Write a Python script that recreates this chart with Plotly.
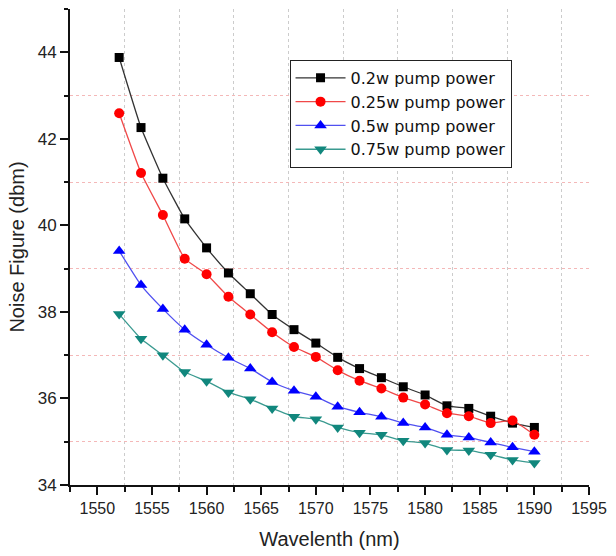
import plotly.graph_objects as go

wavelength = [1552, 1554, 1556, 1558, 1560, 1562, 1564, 1566, 1568, 1570,
              1572, 1574, 1576, 1578, 1580, 1582, 1584, 1586, 1588, 1590]

nf_02w = [43.88, 42.26, 41.09, 40.15, 39.48, 38.90, 38.42, 37.94, 37.59, 37.28,
          36.95, 36.69, 36.48, 36.27, 36.08, 35.83, 35.77, 35.59, 35.43, 35.33]
nf_025w = [42.59, 41.21, 40.24, 39.23, 38.87, 38.35, 37.94, 37.53, 37.19, 36.96,
           36.65, 36.41, 36.23, 36.02, 35.86, 35.66, 35.59, 35.43, 35.49, 35.16]
nf_05w = [39.41, 38.62, 38.07, 37.59, 37.24, 36.94, 36.69, 36.38, 36.18, 36.04,
          35.81, 35.68, 35.58, 35.43, 35.33, 35.16, 35.10, 34.98, 34.87, 34.77]
nf_075w = [37.95, 37.38, 37.00, 36.61, 36.40, 36.14, 35.98, 35.77, 35.58, 35.52,
           35.33, 35.21, 35.16, 35.02, 34.97, 34.81, 34.80, 34.70, 34.58, 34.51]

series_names = ["0.2w pump power", "0.25w pump power", "0.5w pump power", "0.75w pump power"]

FONT = "Liberation Sans, Arial, sans-serif"
LEGFONT = "DejaVu Sans, sans-serif"

styles = [
    dict(symbol="square", size=9, mcolor="#000000", lcolor="#333333"),
    dict(symbol="circle", size=10, mcolor="#ff0000", lcolor="#f04848"),
    dict(symbol="triangle-up", size=11, mcolor="#0000ff", lcolor="#5050f0"),
    dict(symbol="triangle-down", size=11, mcolor="#11877d", lcolor="#3a9a90"),
]

fig = go.Figure()
for name, vals, st in zip(series_names, [nf_02w, nf_025w, nf_05w, nf_075w], styles):
    fig.add_trace(go.Scatter(
        x=wavelength, y=vals, name=name, mode="lines+markers",
        line=dict(color=st["lcolor"], width=1.3, shape="spline", smoothing=0.4),
        marker=dict(symbol=st["symbol"], size=st["size"], color=st["mcolor"],
                    line=dict(width=0)),
    ))

fig.update_layout(
    width=616, height=556,
    margin=dict(l=70, r=18, t=9, b=69),
    paper_bgcolor="white", plot_bgcolor="white",
    font=dict(family=FONT, color="#222222"),
    showlegend=True,
    legend=dict(
        x=0.423, y=0.893, xanchor="left", yanchor="top",
        bgcolor="white", bordercolor="#222222", borderwidth=1,
        font=dict(family=LEGFONT, size=16, color="#111111"),
        itemwidth=50, tracegroupgap=0,
    ),
    xaxis=dict(
        range=[1547.5, 1595], tick0=1550, dtick=5,
        showline=True, linecolor="#111111", linewidth=2,
        ticks="outside", ticklen=8, tickwidth=2, tickcolor="#111111",
        showgrid=False, zeroline=False,
        tickfont=dict(family=FONT, size=16, color="#222222"),
        title=dict(text="Wavelenth (nm)", font=dict(family=FONT, size=20, color="#222222"), standoff=16),
        minor=dict(dtick=2.5, tick0=1550, ticks="outside", ticklen=5, tickwidth=2,
                   tickcolor="#111111", showgrid=True, gridcolor="#cccccc",
                   griddash="dot", gridwidth=1),
    ),
    yaxis=dict(
        range=[34, 45], tick0=34, dtick=2,
        showline=True, linecolor="#111111", linewidth=2,
        ticks="outside", ticklen=8, tickwidth=2, tickcolor="#111111",
        showgrid=False, zeroline=False,
        tickfont=dict(family=FONT, size=17, color="#222222"),
        title=dict(text="Noise Figure (dbm)", font=dict(family=FONT, size=20, color="#222222"), standoff=8),
        minor=dict(dtick=1, tick0=34, ticks="outside", ticklen=4, tickwidth=2,
                   tickcolor="#111111", showgrid=True, gridcolor="#f4b8b8",
                   griddash="dot", gridwidth=1),
    ),
)

fig.write_html("out.html")
